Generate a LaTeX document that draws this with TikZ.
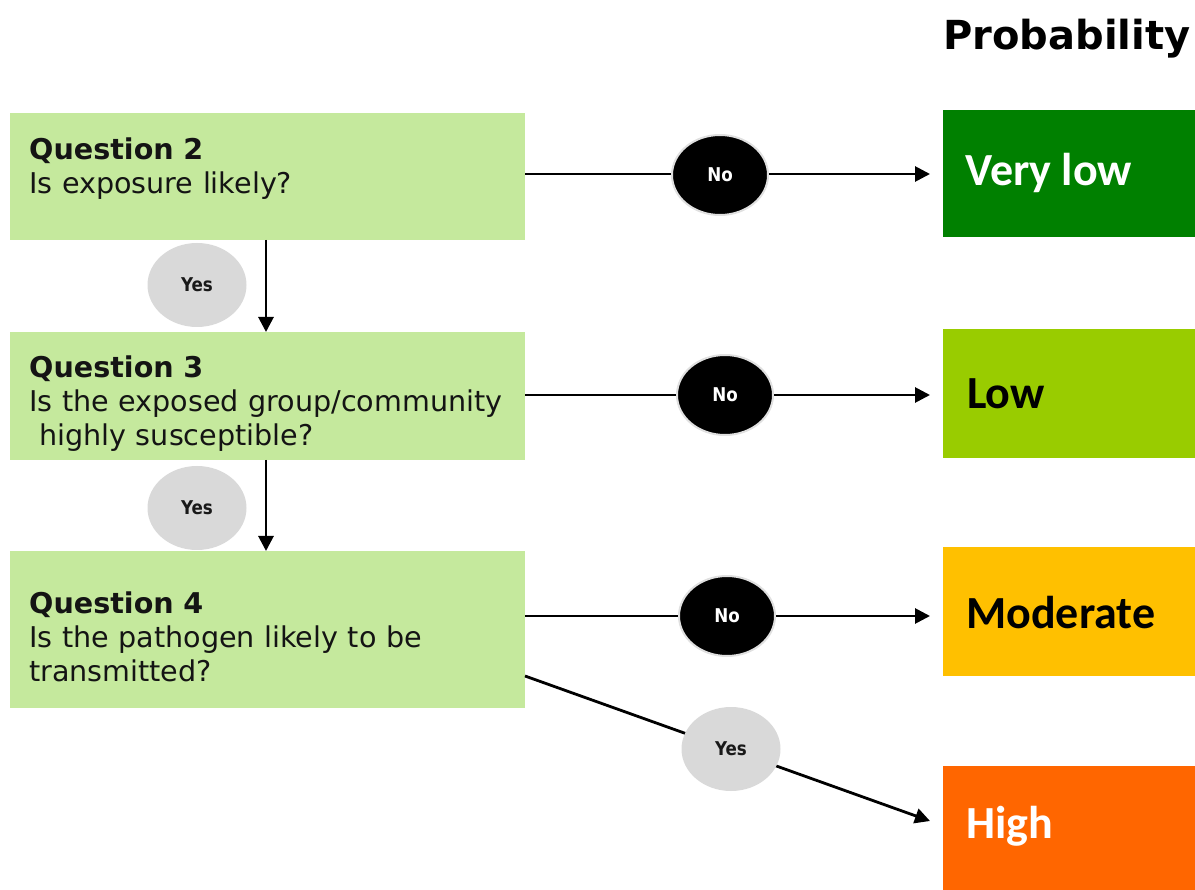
\documentclass[tikz,border=0pt]{standalone}
\usepackage{fontspec}
\usetikzlibrary{arrows.meta,shapes.geometric}
\newfontfamily\dvfont{DejaVu Sans}
\newfontfamily\tagfont[FakeStretch=0.88]{DejaVu Sans}
\newfontfamily\calfont{Carlito}
\definecolor{qgreen}{HTML}{C5E99D}
\definecolor{vlow}{HTML}{008000}
\definecolor{lowc}{HTML}{99CC00}
\definecolor{modc}{HTML}{FFC000}
\definecolor{highc}{HTML}{FF6600}
\definecolor{tagg}{HTML}{D9D9D9}
\tikzset{
  qbox/.style={rectangle, fill=qgreen, anchor=north west, minimum width=515pt, inner sep=0pt},
  qtext/.style={anchor=base west, text width=490pt, inner sep=0pt, align=left, text=black!92,
    font=\dvfont\fontsize{28.6}{34}\selectfont},
  obox/.style={rectangle, anchor=north west, minimum width=252pt, inner sep=0pt},
  olabel/.style={anchor=west, inner sep=0pt, font=\calfont\bfseries\fontsize{46}{50}\selectfont},
  notag/.style={ellipse, fill=black, draw=black!12, line width=2pt, minimum width=96pt, minimum height=80pt,
    inner sep=0pt, text=white, font=\tagfont\bfseries\fontsize{19}{20}\selectfont},
  yestag/.style={ellipse, fill=tagg, minimum width=99pt, minimum height=84pt,
    inner sep=0pt, text=black!90, font=\tagfont\bfseries\fontsize{19}{20}\selectfont},
  flow/.style={line width=2.8pt, -{Triangle[length=15pt,width=15pt]}}
}
\begin{document}
\begin{tikzpicture}[x=1pt,y=-1pt]
\useasboundingbox (0,0) rectangle (1195,890);
% title
\node[anchor=base west, inner sep=0pt, font=\dvfont\bfseries\fontsize{40}{44}\selectfont] (title) at (943,50) {Probability};
% question boxes
\node[qbox, minimum height=127pt] (q2) at (10,113) {};
\node[qbox, minimum height=128pt] (q3) at (10,332) {};
\node[qbox, minimum height=157pt] (q4) at (10,551) {};
\node[qtext] (q2t) at (29,160) {\textbf{Question 2}\\Is exposure likely?};
\node[qtext] (q3t) at (29,378) {\textbf{Question 3}\\Is the exposed group/community\\\hspace*{10pt}highly susceptible?};
\node[qtext] (q4t) at (29,613) {\textbf{Question 4}\\Is the pathogen likely to be\\transmitted?};
% outcome boxes
\node[obox, fill=vlow, minimum height=127pt] (o1) at (943,110) {};
\node[obox, fill=lowc, minimum height=129pt] (o2) at (943,329) {};
\node[obox, fill=modc, minimum height=129pt] (o3) at (943,547) {};
\node[obox, fill=highc, minimum height=124pt] (o4) at (943,766) {};
\node[olabel, text=white] (l1) at (965,173) {Very low};
\node[olabel, text=black] (l2) at (967,394) {Low};
\node[olabel, text=black] (l3) at (966,613) {Moderate};
\node[olabel, text=white] (l4) at (966,826) {High};
% coordinates for arrow ends
\coordinate (q2e) at (525,174);
\coordinate (q3e) at (525,395);
\coordinate (q4e) at (525,616);
\coordinate (q4d) at (525,676);
\coordinate (t1) at (930,174);
\coordinate (t2) at (930,395);
\coordinate (t3) at (930,616);
\coordinate (t4) at (930,821);
\coordinate (v1s) at (266,240);
\coordinate (v1e) at (266,332);
\coordinate (v2s) at (266,460);
\coordinate (v2e) at (266,551);
% connectors
\draw[flow] (q2e) -- (t1);
\draw[flow] (q3e) -- (t2);
\draw[flow] (q4e) -- (t3);
\draw[flow] (q4d) -- (t4);
\draw[flow] (v1s) -- (v1e);
\draw[flow] (v2s) -- (v2e);
% tags
\node[notag] (n1) at (720,175) {No};
\node[notag] (n2) at (725,395) {No};
\node[notag] (n3) at (727,616) {No};
\node[yestag] (y1) at (197,285) {Yes};
\node[yestag] (y2) at (197,508) {Yes};
\node[yestag] (y3) at (731,749) {Yes};
\end{tikzpicture}
\end{document}
